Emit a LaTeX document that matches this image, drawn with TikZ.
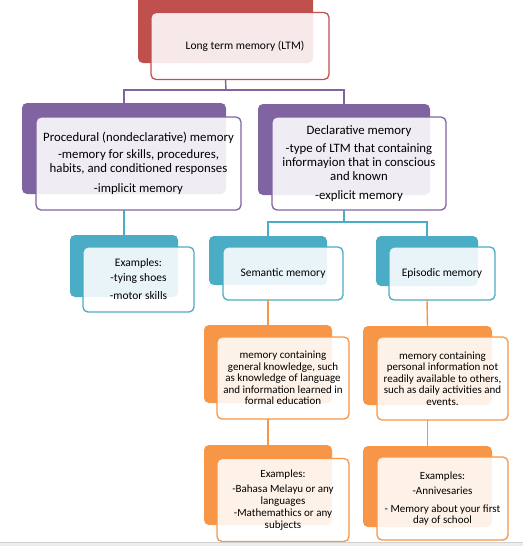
\documentclass[tikz,border=0pt]{standalone}
\usepackage{fontspec}
\setmainfont{Carlito}
\usetikzlibrary{positioning,calc}
\definecolor{ltmred}{HTML}{C0504D}
\definecolor{ltmpurple}{HTML}{8064A2}
\definecolor{ltmblue}{HTML}{4BACC6}
\definecolor{ltmorange}{HTML}{F79646}

\begin{document}
\begin{tikzpicture}[
  x=1pt,y=-1pt,
  back/.style={rounded corners=5pt,inner sep=0pt,outer sep=0pt},
  front/.style={draw,rounded corners=5pt,line width=1.3pt,fill=white,fill opacity=0.88,text opacity=1,align=center,inner sep=0pt,outer sep=0pt},
  big/.style={font=\fontsize{12.8}{14.2}\selectfont},
  mid/.style={font=\fontsize{11.5}{13}\selectfont},
  small/.style={font=\fontsize{11}{11.5}\selectfont},
  link/.style={line width=1.4pt}]
\clip (0,0) rectangle (523,546);

% ---------- level 1: long term memory ----------
\node[back,fill=ltmred,minimum width=175pt,minimum height=78pt] (ltmback) at (225.5,24) {};
\node[front,draw=ltmred,mid,minimum width=178pt,minimum height=67pt] (ltm) at (240,46) {\hspace*{10pt}Long term memory (LTM)};

% ---------- level 2: procedural and declarative ----------
\node[back,fill=ltmpurple,minimum width=204pt,minimum height=91pt] (procback) at (124,148.5) {};
\node[front,draw=ltmpurple,big,minimum width=205pt,minimum height=93pt] (proc) at (138.5,163.5)
  {Procedural (nondeclarative) memory\\[3pt]-memory for skills, procedures,\\habits, and conditioned responses\\[6pt]-implicit memory};
\node[back,fill=ltmpurple,minimum width=172pt,minimum height=91pt] (declback) at (344,149.5) {};
\node[front,draw=ltmpurple,big,minimum width=174pt,minimum height=93pt] (decl) at (359,163.5)
  {Declarative memory\\[4pt]-type of LTM that containing\\informayion that in conscious\\and known\\[5pt]-explicit memory};
\coordinate (ltmbus) at (226,90);
\draw[link,ltmpurple] (ltmback |- ltm.south) -- (ltmbus);
\draw[link,ltmpurple] (procback.north) |- (ltmbus) -| (declback.north);

% ---------- level 3: examples, semantic, episodic ----------
\node[back,fill=ltmblue,minimum width=108pt,minimum height=62pt] (exback) at (124,266) {};
\node[front,draw=ltmblue,mid,minimum width=111pt,minimum height=65pt] (ex) at (138.5,279.5)
  {Examples:\\[2pt]-tying shoes\\[5pt]-motor skills};
\node[back,fill=ltmblue,minimum width=118pt,minimum height=49pt] (semback) at (268,260.5) {};
\node[front,draw=ltmblue,mid,minimum width=120pt,minimum height=53pt] (sem) at (283,273.5) {Semantic memory};
\node[back,fill=ltmblue,minimum width=102pt,minimum height=50pt] (epiback) at (427,261) {};
\node[front,draw=ltmblue,mid,minimum width=106pt,minimum height=53pt] (epi) at (442,273.5) {Episodic memory};
\draw[link,ltmblue] (procback |- proc.south) -- (exback.north);
\coordinate (declbus) at (344,222);
\draw[link,ltmblue] (declback |- decl.south) -- (declbus);
\draw[link,ltmblue] (semback.north) |- (declbus) -| (epiback.north);

% ---------- level 4: what each one holds ----------
\node[back,fill=ltmorange,minimum width=128pt,minimum height=78pt] (semdescback) at (268,364) {};
\node[front,draw=ltmorange,small,minimum width=132pt,minimum height=82pt] (semdesc) at (283,378)
  {memory containing\\general knowledge, such\\as knowledge of language\\and information learned in\\formal education};
\node[back,fill=ltmorange,minimum width=129pt,minimum height=79pt] (epidescback) at (427.5,365.5) {};
\node[front,draw=ltmorange,small,minimum width=131pt,minimum height=83pt] (epidesc) at (442.5,378.5)
  {memory containing\\personal information not\\readily available to others,\\such as daily activities and\\events.};
\draw[link,ltmorange] (semback |- sem.south) -- (semdescback.north);
\draw[link,ltmorange] (epiback |- epi.south) -- (epidescback.north);

% ---------- level 5: examples ----------
\node[back,fill=ltmorange,minimum width=128pt,minimum height=80pt] (semexback) at (268,485) {};
\node[front,draw=ltmorange,small,minimum width=132pt,minimum height=83pt] (semex) at (283,500)
  {Examples:\\[4pt]-Bahasa Melayu or any\\languages\\[1pt]-Mathemathics or any\\subjects};
\node[back,fill=ltmorange,minimum width=129pt,minimum height=81pt] (epiexback) at (427.5,486.5) {};
\node[front,draw=ltmorange,small,minimum width=131pt,minimum height=83pt] (epiex) at (442.5,498.5)
  {Examples:\\[4pt]-Annivesaries\\[6pt]- Memory about your first\\day of school};
\draw[link,ltmorange] (semdescback |- semdesc.south) -- (semexback.north);
\draw[link,ltmorange] (epidescback |- epidesc.south) -- (epiexback.north);

% bottom strip
\fill[gray!15] (0,542) rectangle (523,546);
\draw[gray!35] (0,542) -- (523,542);
\end{tikzpicture}
\end{document}
